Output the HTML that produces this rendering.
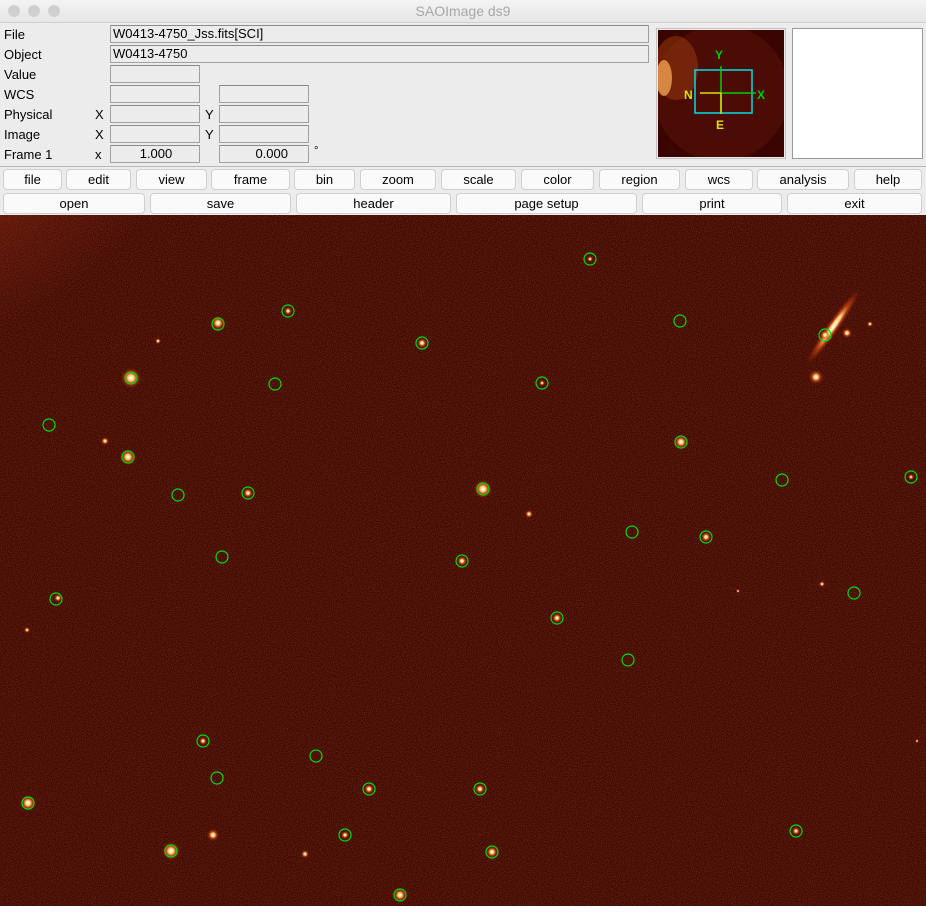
<!DOCTYPE html>
<html><head><meta charset="utf-8"><style>
body{margin:0;width:926px;height:920px;background:#fff;font-family:"Liberation Sans",sans-serif;font-size:13px;position:relative;overflow:hidden}
.abs{position:absolute}
.lbl{position:absolute;left:4px;color:#000}
.fld{position:absolute;border:1px solid #a0a0a0;border-top-color:#8a8a8a;background:#ececec;height:16px;font-size:13px;line-height:16px;padding-left:2px;box-sizing:border-box}
.btn{position:absolute;height:21px;background:#fafafa;border:1px solid #d0d0d0;border-radius:4px;box-sizing:border-box;text-align:center;line-height:19px;font-size:13px}
</style></head><body>
<div class="abs" style="left:0;top:0;width:926px;height:22px;background:linear-gradient(#f4f4f4,#e6e6e6);border-bottom:1px solid #cfcfcf">
<div class="abs" style="left:8px;top:5px;width:12px;height:12px;border-radius:50%;background:#d0d0d0"></div>
<div class="abs" style="left:28px;top:5px;width:12px;height:12px;border-radius:50%;background:#d0d0d0"></div>
<div class="abs" style="left:48px;top:5px;width:12px;height:12px;border-radius:50%;background:#d0d0d0"></div>
<div class="abs" style="left:0;width:926px;top:3px;text-align:center;color:#a8a8a8;font-size:14px">SAOImage ds9</div>
</div>
<div class="abs" style="left:0;top:23px;width:926px;height:192px;background:#ececec"></div>
<div class="lbl" style="top:27px">File</div>
<div class="lbl" style="top:47px">Object</div>
<div class="lbl" style="top:67px">Value</div>
<div class="lbl" style="top:87px">WCS</div>
<div class="lbl" style="top:107px">Physical</div>
<div class="lbl" style="top:127px">Image</div>
<div class="lbl" style="top:147px">Frame 1</div>
<div class="lbl" style="top:107px;left:95px">X</div>
<div class="lbl" style="top:127px;left:95px">X</div>
<div class="lbl" style="top:147px;left:95px">x</div>
<div class="lbl" style="top:107px;left:205px">Y</div>
<div class="lbl" style="top:127px;left:205px">Y</div>
<div class="lbl" style="top:145px;left:314px;font-size:11px">°</div>
<div class="fld" style="left:110px;top:25px;width:539px;height:18px">W0413-4750_Jss.fits[SCI]</div>
<div class="fld" style="left:110px;top:45px;width:539px;height:18px">W0413-4750</div>
<div class="fld" style="left:110px;top:65px;width:90px;height:18px"></div>
<div class="fld" style="left:110px;top:85px;width:90px;height:18px"></div>
<div class="fld" style="left:219px;top:85px;width:90px;height:18px"></div>
<div class="fld" style="left:110px;top:105px;width:90px;height:18px"></div>
<div class="fld" style="left:219px;top:105px;width:90px;height:18px"></div>
<div class="fld" style="left:110px;top:125px;width:90px;height:18px"></div>
<div class="fld" style="left:219px;top:125px;width:90px;height:18px"></div>
<div class="fld" style="left:110px;top:145px;width:90px;height:18px;text-align:center">1.000</div>
<div class="fld" style="left:219px;top:145px;width:90px;height:18px;text-align:right;padding-right:20px">0.000</div>
<svg class="abs" style="left:656px;top:28px" width="130" height="131">
<defs><clipPath id="pc"><rect x="2" y="2" width="126" height="127"/></clipPath></defs>
<rect x="0" y="0" width="130" height="131" fill="#ececec" stroke="#999"/>
<g clip-path="url(#pc)">
<rect x="2" y="2" width="126" height="127" fill="#3a0500"/>
<circle cx="65" cy="65" r="68" fill="#4a0c04"/>
<ellipse cx="20" cy="40" rx="22" ry="32" fill="#a03a10" opacity="0.5"/>
<ellipse cx="8" cy="50" rx="8" ry="18" fill="#f0a050" opacity="0.8"/>
</g>
<rect x="39" y="42" width="57" height="43" fill="none" stroke="#00e0e0" stroke-width="1.5"/>
<line x1="65" y1="85" x2="65" y2="38" stroke="#00d000" stroke-width="1.5"/>
<line x1="65" y1="65" x2="100" y2="65" stroke="#00d000" stroke-width="1.5"/>
<line x1="65" y1="65" x2="44" y2="65" stroke="#e0e000" stroke-width="1.5"/>
<line x1="65" y1="65" x2="65" y2="86" stroke="#e0e000" stroke-width="1.5"/>
<text x="59" y="31" fill="#00d000" font-size="12" font-weight="bold" font-family="Liberation Sans">Y</text>
<text x="101" y="71" fill="#00d000" font-size="12" font-weight="bold" font-family="Liberation Sans">X</text>
<text x="28" y="71" fill="#e0e000" font-size="12" font-weight="bold" font-family="Liberation Sans">N</text>
<text x="60" y="101" fill="#e0e000" font-size="12" font-weight="bold" font-family="Liberation Sans">E</text>
</svg>
<div class="abs" style="left:792px;top:28px;width:131px;height:131px;background:#fff;border:1px solid #999;box-sizing:border-box"></div>
<div class="abs" style="left:0;top:166px;width:926px;height:1px;background:#b8b8b8"></div>
<div id="btns"></div>
<svg class="abs" id="img" style="left:0;top:215px" width="926" height="691">
<defs>
<filter id="noise" x="0" y="0" width="100%" height="100%"><feTurbulence type="fractalNoise" baseFrequency="1.2" numOctaves="1" seed="3"/><feColorMatrix type="matrix" values="0 0 0 0 0.55  0 0 0 0 0.1  0 0 0 0 0.03  0 0 0 2.2 -0.8"/></filter>
<radialGradient id="glow" cx="0" cy="0" r="1"><stop offset="0" stop-color="#b0381a" stop-opacity="0.9"/><stop offset="1" stop-color="#a8341a" stop-opacity="0"/></radialGradient>
<radialGradient id="star" cx="0.5" cy="0.5" r="0.5"><stop offset="0" stop-color="#fff"/><stop offset="0.3" stop-color="#ffd080"/><stop offset="0.6" stop-color="#e05010" stop-opacity="0.6"/><stop offset="1" stop-color="#c03000" stop-opacity="0"/></radialGradient>
</defs>
<rect width="926" height="691" fill="#3a0702"/>
<rect width="926" height="691" filter="url(#noise)" opacity="0.45"/>
<ellipse cx="0" cy="0" rx="200" ry="150" fill="url(#glow)"/>
<ellipse cx="833" cy="112" rx="6" ry="45" fill="url(#star)" transform="rotate(35 833 112)"/>
<g id="stars"></g><g id="regions"></g>
</svg>
<script>
const btn1=[["file",3,62],["edit",66,131],["view",136,207],["frame",211,290],["bin",294,355],["zoom",360,436],["scale",441,516],["color",521,594],["region",599,680],["wcs",685,753],["analysis",757,849],["help",854,922]];
const btn2=[["open",3,145],["save",150,291],["header",296,451],["page setup",456,637],["print",642,782],["exit",787,922]];
const bc=document.getElementById('btns');
function mk(list,top){for(const [t,a,b] of list){const d=document.createElement('div');d.className='btn';d.style.left=a+'px';d.style.top=top+'px';d.style.width=(b-a)+'px';d.textContent=t;


bc.appendChild(d);}}
mk(btn1,169);mk(btn2,193);
const starX=[131,218,128,105,483,529,681,816,847,28,171,213,305,400,492,557,462,58,825,422,706,248,590,288,542,480,369,345,203,796,158,911,738,870,822,27,917];
const starY=[378,323,457,441,489,514,442,377,333,803,851,835,854,895,852,618,561,598,335,343,537,493,259,311,383,789,789,835,741,831,341,477,591,324,584,630,741];
const starR=[10,7,8,4,9,4,7,7,5,8,9,6,4,7,6,5,5,4,5,5,5,5,3,4,3,5,5,4,4,4,3,3,2,3,3,3,2];
const regX=[590,288,218,680,422,825,131,275,542,49,128,681,178,248,483,782,911,632,706,222,462,56,854,557,628,203,316,217,369,480,28,796,345,171,492,400];
const regY=[259,311,324,321,343,335,378,384,383,425,457,442,495,493,489,480,477,532,537,557,561,599,593,618,660,741,756,778,789,789,803,831,835,851,852,895];
const NS='http://www.w3.org/2000/svg';const OY=215;
const sg=document.getElementById('stars'),rg=document.getElementById('regions');
for(let i=0;i<starX.length;i++){const c=document.createElementNS(NS,'circle');c.setAttribute('cx',starX[i]);c.setAttribute('cy',starY[i]-OY);c.setAttribute('r',starR[i]);c.setAttribute('fill','url(#star)');


sg.appendChild(c);}
for(let i=0;i<regX.length;i++){const c=document.createElementNS(NS,'circle');c.setAttribute('cx',regX[i]);c.setAttribute('cy',regY[i]-OY);c.setAttribute('r',6);c.setAttribute('fill','none');c.setAttribute('stroke','#00e000');c.setAttribute('stroke-width','1.2');


rg.appendChild(c);}
</script>
</body></html>
